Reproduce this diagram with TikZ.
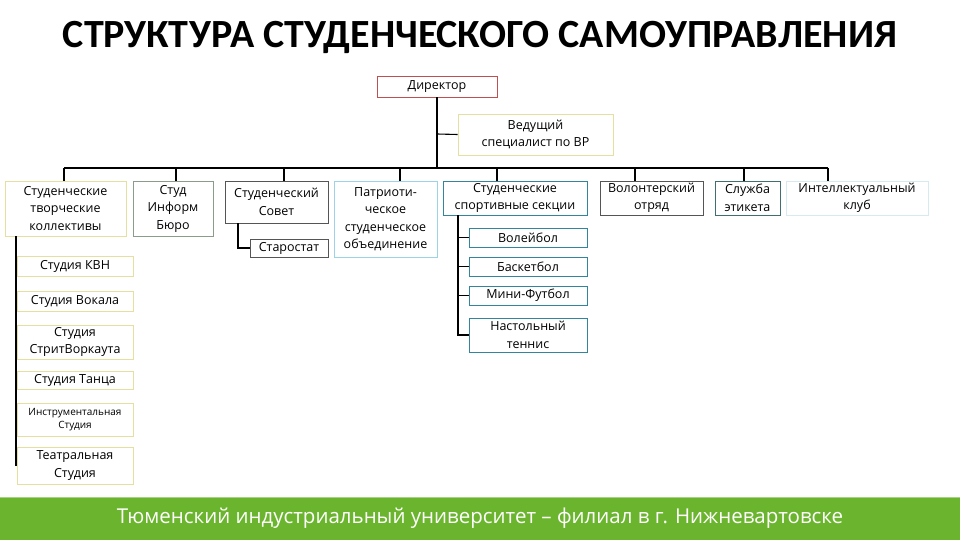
\documentclass[tikz,border=0pt]{standalone}
\usepackage{fontspec}
\setmainfont{Open Sans}
\newfontfamily\titlefont{Carlito}
\begin{document}
\begin{tikzpicture}[x=1pt,y=-1pt,
  bx/.style={draw=#1,line width=0.8pt,fill=white,inner sep=0pt,font=\fontsize{12.5}{17.5}\selectfont,align=center},
  ln/.style={line width=1.1pt,black}]
\definecolor{cred}{HTML}{C0504D}
\definecolor{cyel}{HTML}{E6E0A0}
\definecolor{cgry}{HTML}{8C9C8C}
\definecolor{cblu}{HTML}{9CD3E6}
\definecolor{cdbl}{HTML}{31859C}
\definecolor{cdk}{HTML}{555555}
\definecolor{cteal}{HTML}{3F6F6F}
\definecolor{clt}{HTML}{D6EAF0}
\definecolor{cgreen}{HTML}{6BB52E}
\useasboundingbox (0,0) rectangle (960,540);
\fill[white] (0,0) rectangle (960,540);
\node[font=\titlefont\bfseries\fontsize{40}{44}\selectfont] (title) at (480,37) {СТРУКТУРА СТУДЕНЧЕСКОГО САМОУПРАВЛЕНИЯ};
\fill[cgreen] (0,498) rectangle (960,540);
\draw[cgreen!60,line width=1pt] (0,497) -- (960,497);
\node[white,font=\fontsize{20.5}{24}\selectfont] (foot) at (480,518) {Тюменский индустриальный университет – филиал в г. Нижневартовске};
% boxes
\newcommand\mybox[7]{\node[bx=#6,minimum width=#3-#2,minimum height=#5-#4] (#1) at ({(#2+#3)/2},{(#4+#5)/2}) {#7};}
\mybox{dir}{377}{497}{76}{97}{cred}{Директор}
\mybox{ved}{458}{613}{114}{155}{cyel}{Ведущий\\специалист по ВР}
\mybox{tvor}{5}{126}{181}{236}{cyel}{Студенческие\\творческие\\коллективы}
\mybox{inf}{133}{213}{181}{236}{cgry}{Студ\\Информ\\Бюро}
\mybox{sov}{225}{328}{181}{223}{cdk}{Студенческий\\Совет}
\mybox{star}{250}{328}{239}{257}{cdk}{Старостат}
\mybox{pat}{334}{437}{181}{257}{cblu}{Патриоти-\\ческое\\студенческое\\объединение}
\mybox{sport}{443}{587}{181}{215}{cdbl}{Студенческие\\спортивные секции}
\mybox{vol}{600}{703}{181}{215}{cdk}{Волонтерский\\отряд}
\mybox{et}{715}{780}{181}{215}{cteal}{Служба\\этикета}
\mybox{int}{786}{928}{181}{215}{clt}{Интеллектуальный\\клуб}
\mybox{s1}{469}{587}{228}{247}{cdbl}{Волейбол}
\mybox{s2}{469}{587}{257}{276}{cdbl}{Баскетбол}
\mybox{s3}{469}{587}{286}{305}{cdbl}{Мини-Футбол}
\mybox{s4}{469}{587}{318}{352}{cdbl}{Настольный\\теннис}
\mybox{c1}{17}{133}{256}{276}{cyel}{Студия КВН}
\mybox{c2}{17}{133}{291}{311}{cyel}{Студия Вокала}
\mybox{c3}{17}{133}{325}{359}{cyel}{Студия\\СтритВоркаута}
\mybox{c4}{17}{133}{371}{389}{cyel}{Студия Танца}
\node[bx=cyel,minimum width=116,minimum height=33,font=\fontsize{10}{13}\selectfont] (c5) at (75,419.5) {Инструментальная\\Студия};
\mybox{c6}{17}{133}{447}{484}{cyel}{Театральная\\Студия}
% connectors
\coordinate (bus) at (437,168);
\draw[ln] (dir.south) -- (bus);
\draw[ln] (437,134) -- (ved.west);
\draw[ln] (64,168) -- (828,168);
\foreach \n/\x in {tvor/64,inf/176,sov/284,pat/400,sport/497,vol/635,et/744,int/828}
  \draw[ln] (\x,168) -- (\x,181);
\draw[ln] (238,223) |- (star.west);
\foreach \n in {s1,s2,s3,s4} \draw[ln] (458,215) |- (\n.west);
\foreach \n in {c1,c2,c3,c4,c5,c6} \draw[ln] (16,236) |- (\n.west);
\end{tikzpicture}
\end{document}
